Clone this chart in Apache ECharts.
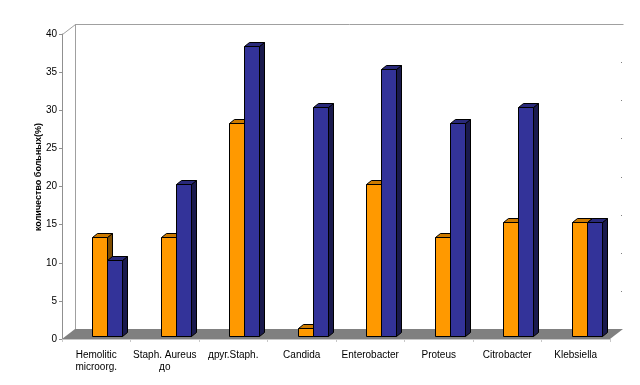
<!DOCTYPE html>
<html>
<head>
<meta charset="utf-8">
<script src="https://cdn.jsdelivr.net/npm/echarts@6/dist/echarts.min.js"></script>
<style>html,body{margin:0;padding:0;background:#fff;}#c{width:640px;height:385px;}</style>
</head>
<body>
<div id="c"></div>
<script>
const categories = ['Hemolitic\nmicroorg.', 'Staph. Aureus\nдо', 'друг.Staph.', 'Candida', 'Enterobacter', 'Proteus', 'Citrobacter', 'Klebsiella'];
const seriesOrange = [13, 13, 28, 1, 20, 13, 15, 15];
const seriesBlue = [10, 20, 38, 30, 35, 28, 30, 15];
const yMin = 0, yMax = 40, yStep = 5;
const yTitle = 'количество больных(%)';

const G = {left: 62, right: 610, top: 34, bottom: 339};
const D = {dx: 13, dy: -10};

const palettes = [
  {front: '#FF9900', top: '#CC7A00', side: '#7F4D00'},
  {front: '#333399', top: '#29297A', side: '#1A1A4D'}
];

function makeRender(s) {
  return function (params, api) {
    const idx = api.value(0), v = api.value(1);
    const top = api.coord([idx, v]);
    const base = api.coord([idx, 0]);
    const band = api.size([1, 0])[0];
    const w = Math.round(band * 0.219);
    const shiftX = Math.round(band * 0.16);
    const shiftY = -3;
    const x0 = Math.round(top[0] + shiftX - w + s * w) + 0.5;
    const yT = Math.round(top[1] + shiftY) + 0.5;
    const yB = Math.round(base[1] + shiftY) + 0.5;
    const dx = 5, dy = -4;
    const p = palettes[s];
    const st = {stroke: '#000', lineWidth: 1};
    return {
      type: 'group',
      children: [
        {type: 'polygon', shape: {points: [[x0 + w, yT], [x0 + w + dx, yT + dy], [x0 + w + dx, yB + dy], [x0 + w, yB]]},
          style: Object.assign({fill: p.side}, st)},
        {type: 'polygon', shape: {points: [[x0, yT], [x0 + w, yT], [x0 + w + dx, yT + dy], [x0 + dx, yT + dy]]},
          style: Object.assign({fill: p.top}, st)},
        {type: 'rect', shape: {x: x0, y: yT, width: w, height: yB - yT},
          style: Object.assign({fill: p.front}, st)}
      ]
    };
  };
}

const chart = echarts.init(document.getElementById('c'), null, {renderer: 'canvas'});

const wallGraphics = [
  {type: 'polygon', z: 0, shape: {points: [[G.left, G.bottom], [G.left + D.dx, G.bottom + D.dy], [G.right + D.dx, G.bottom + D.dy], [G.right, G.bottom]]},
    style: {fill: '#808080'}},
  {type: 'polyline', z: 0, shape: {points: [[G.left + 0.5, G.top + 0.5], [G.left + D.dx + 0.5, G.top + D.dy + 0.5], [G.right + D.dx + 0.5, G.top + D.dy + 0.5]]},
    style: {stroke: '#A0A0A0', lineWidth: 1, fill: null}},
  {type: 'line', z: 0, shape: {x1: G.left + D.dx + 0.5, y1: G.top + D.dy, x2: G.left + D.dx + 0.5, y2: G.bottom + D.dy}, style: {stroke: '#A0A0A0', lineWidth: 1}},
  {type: 'text', z: 5, x: 39, y: 177, rotation: Math.PI / 2,
    style: {text: yTitle, font: 'bold 9px "Liberation Sans", Arial, sans-serif', fill: '#000', align: 'center', verticalAlign: 'middle'}}
];
for (let v = yMin + yStep; v < yMax; v += yStep) {
  const y = G.bottom + D.dy - (v - yMin) / (yMax - yMin) * (G.bottom - G.top);
  wallGraphics.push({type: 'rect', z: 0, shape: {x: G.right + D.dx - 2, y: Math.round(y), width: 1, height: 1}, style: {fill: '#808080'}});
}

chart.setOption({
  animation: false,
  backgroundColor: '#fff',
  grid: {left: G.left, right: 640 - G.right, top: G.top, bottom: 385 - G.bottom, containLabel: false},
  xAxis: {
    type: 'category', data: categories,
    axisLine: {show: true, lineStyle: {color: '#C8C8C8', width: 1}},
    axisTick: {show: true, length: 3, lineStyle: {color: '#C8C8C8'}},
    axisLabel: {color: '#000', fontSize: 10, fontFamily: '"Liberation Sans", Arial, sans-serif', margin: 10, lineHeight: 12, interval: 0},
    splitLine: {show: false}
  },
  yAxis: {
    type: 'value', min: yMin, max: yMax, interval: yStep,
    axisLine: {show: true, lineStyle: {color: '#909090', width: 1}},
    axisTick: {show: true, length: 3, lineStyle: {color: '#909090'}},
    axisLabel: {color: '#000', fontSize: 10, fontFamily: '"Liberation Sans", Arial, sans-serif', margin: 5},
    splitLine: {show: false}
  },
  graphic: wallGraphics,
  series: [
    {type: 'custom', z: 3, renderItem: makeRender(0), data: seriesOrange.map((v, i) => [i, v]), encode: {x: 0, y: 1}},
    {type: 'custom', z: 4, renderItem: makeRender(1), data: seriesBlue.map((v, i) => [i, v]), encode: {x: 0, y: 1}}
  ]
});
</script>
</body>
</html>
